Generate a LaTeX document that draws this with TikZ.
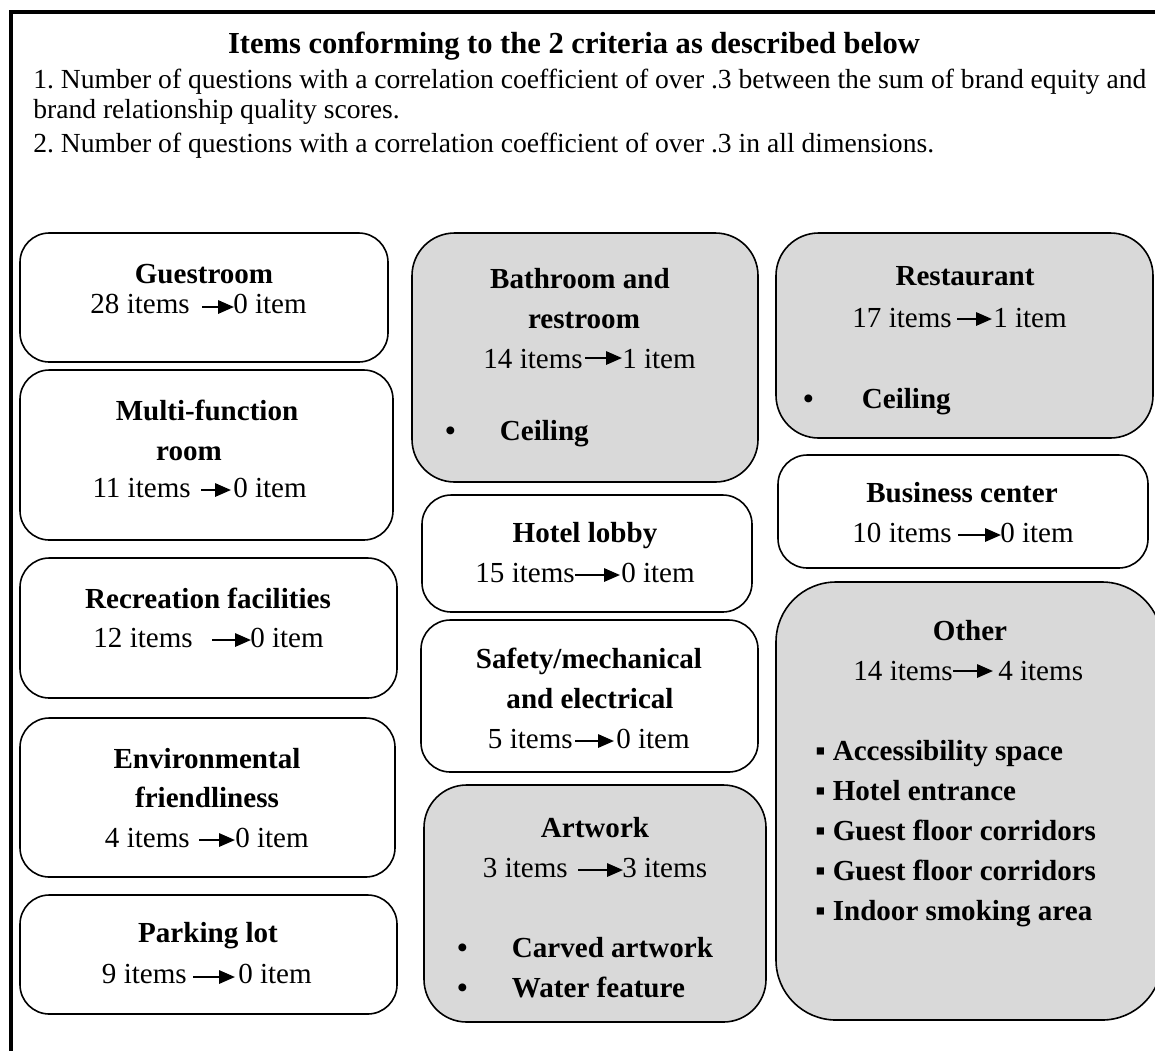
\documentclass[tikz,border=0pt]{standalone}
\usepackage{fontspec}
\setmainfont{Liberation Serif}
\usetikzlibrary{arrows.meta}
\definecolor{cellgray}{RGB}{217,217,217}
\frenchspacing
\tikzset{
  frame/.style={line width=3pt},
  cell/.style={line width=1.2pt, rounded corners=22pt},
  shaded/.style={cell, fill=cellgray, rounded corners=32pt},
  heading/.style={font=\fontsize{22.9}{27}\selectfont\bfseries, inner sep=0pt, anchor=base},
  criterion/.style={font=\fontsize{20.7}{24}\selectfont, inner sep=0pt, anchor=base west},
  area/.style={font=\fontsize{21.8}{25}\selectfont\bfseries, inner sep=0pt, anchor=base},
  before/.style={font=\fontsize{21.8}{25}\selectfont, inner sep=0pt, anchor=base east},
  after/.style={font=\fontsize{21.8}{25}\selectfont, inner sep=0pt, anchor=base west},
  kept/.style={font=\fontsize{21.8}{25}\selectfont\bfseries, inner sep=0pt, anchor=base west},
  flow/.style={line width=1.6pt, -{Triangle[length=12pt,width=10pt]}}
}

\begin{document}
\begin{tikzpicture}[x=0.75pt,y=0.75pt,yscale=-1,xscale=1]
\useasboundingbox (0,0) rectangle (1155,1050);

%Outer frame
\draw [frame] (11,1052) -- (11,12) -- (1157,12) ;

% Text Node
\draw (574,53) node [heading] (ttl) {Items conforming to the 2 criteria as described below};
% Text Node
\draw (33,88) node [criterion] (crA) {1. Number of questions with a correlation coefficient of over .3 between the sum of brand equity and};
% Text Node
\draw (33,118) node [criterion] (crB) {brand relationship quality scores.};
% Text Node
\draw (33,152) node [criterion] (crC) {2. Number of questions with a correlation coefficient of over .3 in all dimensions.};

%Rounded Rect: Guestroom
\draw [cell] (20,233) rectangle (388,362) ;
\draw (204,283) node [area] (gstT) {Guestroom};
\draw (190,313) node [before] (gstA) {28 items};
\draw (233,313) node [after] (gstB) {0 item};
\draw [flow] ([shift={(12,-6)}]gstA.base east) -- ([shift={(1,-6)}]gstB.base west) ;

%Rounded Rect: Multi-function room
\draw [cell] (20,370) rectangle (393,540) ;
\draw (207,420) node [area] (mfrT) {Multi-function};
\draw (189,460) node [area] (mfrU) {room};
\draw (191,497) node [before] (mfrA) {11 items};
\draw (233,497) node [after] (mfrB) {0 item};
\draw [flow] ([shift={(10,-7)}]mfrA.base east) -- ([shift={(-2,-7)}]mfrB.base west) ;

%Rounded Rect: Recreation facilities
\draw [cell] (20,558) rectangle (397,698) ;
\draw (208,608) node [area] (recT) {Recreation facilities};
\draw (193,647) node [before] (recA) {12 items};
\draw (250,647) node [after] (recB) {0 item};
\draw [flow] ([shift={(19,-7)}]recA.base east) -- ([shift={(1,-7)}]recB.base west) ;

%Rounded Rect: Environmental friendliness
\draw [cell] (20,718) rectangle (395,877) ;
\draw (207,768) node [area] (envT) {Environmental};
\draw (207,807) node [area] (envU) {friendliness};
\draw (190,847) node [before] (envA) {4 items};
\draw (235,847) node [after] (envB) {0 item};
\draw [flow] ([shift={(9,-7)}]envA.base east) -- ([shift={(0,-7)}]envB.base west) ;

%Rounded Rect: Parking lot
\draw [cell] (20,895) rectangle (397,1014) ;
\draw (208,942) node [area] (prkT) {Parking lot};
\draw (187,983) node [before] (prkA) {9 items};
\draw (238,983) node [after] (prkB) {0 item};
\draw [flow] ([shift={(6,-6)}]prkA.base east) -- ([shift={(-3,-6)}]prkB.base west) ;

%Rounded Rect: Bathroom and restroom
\draw [shaded] (412,233) rectangle (758,482) ;
\draw (580,288) node [area] (bthT) {Bathroom and};
\draw (584,328) node [area] (bthU) {restroom};
\draw (583,368) node [before] (bthA) {14 items};
\draw (622,368) node [after] (bthB) {1 item};
\draw [flow] ([shift={(2,-10)}]bthA.base east) -- ([shift={(0,-10)}]bthB.base west) ;
\draw (445,440) node [kept] (bthC) {\makebox[41pt][l]{•}Ceiling};

%Rounded Rect: Hotel lobby
\draw [cell] (422,495) rectangle (752,612) ;
\draw (585,542) node [area] (lbyT) {Hotel lobby};
\draw (575,582) node [before] (lbyA) {15 items};
\draw (621,582) node [after] (lbyB) {0 item};
\draw [flow] ([shift={(0,-7)}]lbyA.base east) -- ([shift={(-1,-7)}]lbyB.base west) ;

%Rounded Rect: Safety/mechanical and electrical
\draw [cell] (421,620) rectangle (758,772) ;
\draw (589,668) node [area] (sfyT) {Safety/mechanical};
\draw (590,708) node [area] (sfyU) {and electrical};
\draw (573,748) node [before] (sfyA) {5 items};
\draw (616,748) node [after] (sfyB) {0 item};
\draw [flow] ([shift={(2,-7)}]sfyA.base east) -- ([shift={(-2,-7)}]sfyB.base west) ;

%Rounded Rect: Artwork
\draw [shaded] (424,785) rectangle (766,1022) ;
\draw (595,837) node [area] (artT) {Artwork};
\draw (568,877) node [before] (artA) {3 items};
\draw (622,877) node [after] (artB) {3 items};
\draw [flow] ([shift={(10,-7)}]artA.base east) -- ([shift={(1,-7)}]artB.base west) ;
\draw (457,957) node [kept] (artC) {\makebox[41pt][l]{•}Carved artwork};
\draw (457,997) node [kept] (artD) {\makebox[41pt][l]{•}Water feature};

%Rounded Rect: Restaurant
\draw [shaded] (776,233) rectangle (1153,438) ;
\draw (965,285) node [area] (rstT) {Restaurant};
\draw (952,327) node [before] (rstA) {17 items};
\draw (993,327) node [after] (rstB) {1 item};
\draw [flow] ([shift={(5,-8)}]rstA.base east) -- ([shift={(-1,-8)}]rstB.base west) ;
\draw (803,408) node [kept] (rstC) {\makebox[44pt][l]{•}Ceiling};

%Rounded Rect: Business center
\draw [cell] (778,455) rectangle (1148,568) ;
\draw (962,502) node [area] (busT) {Business center};
\draw (952,542) node [before] (busA) {10 items};
\draw (1000,542) node [after] (busB) {0 item};
\draw [flow] ([shift={(6,-7)}]busA.base east) -- ([shift={(1,-7)}]busB.base west) ;

%Rounded Rect: Other
\draw [shaded, rounded corners=45pt] (776,582) rectangle (1162,1020) ;
\draw (970,640) node [area] (othT) {Other};
\draw (953,680) node [before] (othA) {14 items};
\draw (998,680) node [after] (othB) {4 items};
\draw [flow] ([shift={(0,-9)}]othA.base east) -- ([shift={(-5,-9)}]othB.base west) ;
\draw (815,760) node [kept] (othC) {▪ Accessibility space};
\draw (815,800) node [kept] (othD) {▪ Hotel entrance};
\draw (815,840) node [kept] (othE) {▪ Guest floor corridors};
\draw (815,880) node [kept] (othF) {▪ Guest floor corridors};
\draw (815,920) node [kept] (othG) {▪ Indoor smoking area};

\end{tikzpicture}
\end{document}
